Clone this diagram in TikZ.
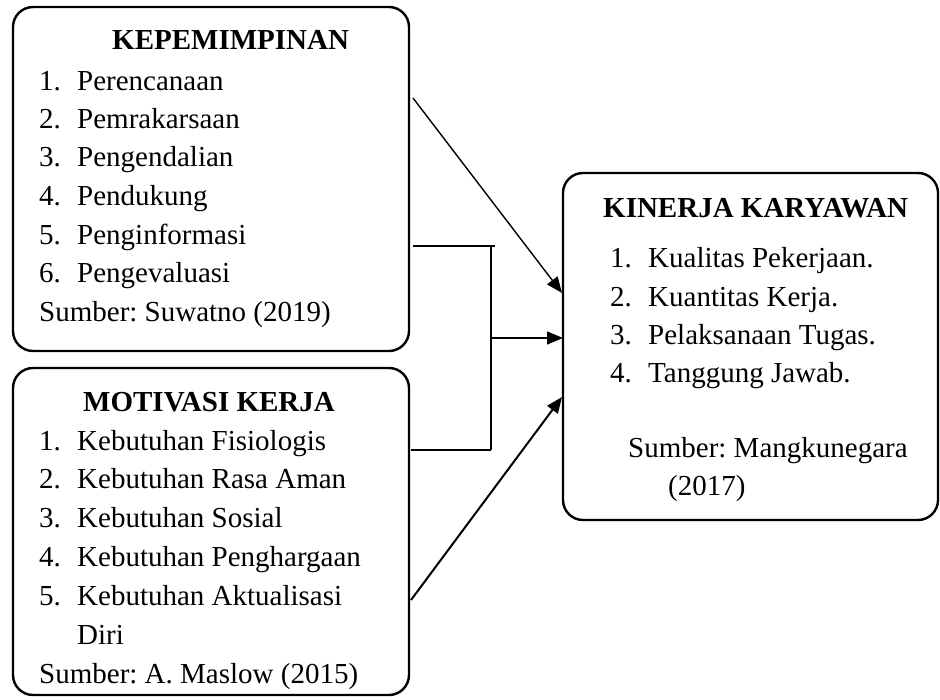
\documentclass[tikz,border=0pt]{standalone}
\usepackage{fontspec}
\setmainfont{Liberation Serif}
\usetikzlibrary{arrows.meta}
\frenchspacing
\begin{document}
\begin{tikzpicture}[x=1pt,y=-1pt,
  box/.style={draw,line width=2.4pt,rounded corners=20pt,inner sep=0pt},
  txt/.style={anchor=base west,inner sep=0pt,font=\fontsize{29}{39}\selectfont},
  ttl/.style={anchor=base west,inner sep=0pt,font=\fontsize{29}{39}\selectfont\bfseries},
  conn/.style={line width=1.4pt},
  arr/.style={line width=1.4pt,-{Triangle[length=16pt,width=13pt]}},
  arrb/.style={line width=2pt,-{Triangle[length=16pt,width=13pt]}}]
\useasboundingbox (0,0) rectangle (940,700);
% boxes
\node[box,minimum width=396pt,minimum height=344pt] (kep) at (211,179) {};
\node[box,minimum width=396pt,minimum height=327pt] (mot) at (211,531.5) {};
\node[box,minimum width=375pt,minimum height=347pt] (kin) at (750.5,346.5) {};
% box 1 text
\node[ttl] (t1) at (112,50) {KEPEMIMPINAN};
\node[txt] (n11) at (39,91) {1.}; \node[txt] (i11) at (77,91) {Perencanaan};
\node[txt] (n12) at (39,129) {2.}; \node[txt] (i12) at (77,129) {Pemrakarsaan};
\node[txt] (n13) at (39,167) {3.}; \node[txt] (i13) at (77,167) {Pengendalian};
\node[txt] (n14) at (39,206) {4.}; \node[txt] (i14) at (77,206) {Pendukung};
\node[txt] (n15) at (39,245) {5.}; \node[txt] (i15) at (77,245) {Penginformasi};
\node[txt] (n16) at (39,283) {6.}; \node[txt] (i16) at (77,283) {Pengevaluasi};
\node[txt] (s1) at (39,322) {Sumber: Suwatno (2019)};
% box 2 text
\node[ttl] (t2) at (83,412) {MOTIVASI KERJA};
\node[txt] (n21) at (39,450) {1.}; \node[txt] (i21) at (77,450) {Kebutuhan Fisiologis};
\node[txt] (n22) at (39,488) {2.}; \node[txt] (i22) at (77,488) {Kebutuhan Rasa Aman};
\node[txt] (n23) at (39,527) {3.}; \node[txt] (i23) at (77,527) {Kebutuhan Sosial};
\node[txt] (n24) at (39,566) {4.}; \node[txt] (i24) at (77,566) {Kebutuhan Penghargaan};
\node[txt] (n25) at (39,605) {5.}; \node[txt] (i25) at (77,605) {Kebutuhan Aktualisasi};
\node[txt] (i26) at (77,644) {Diri};
\node[txt] (s2) at (39,683) {Sumber: A. Maslow (2015)};
% box 3 text
\node[ttl] (t3) at (603,218) {KINERJA KARYAWAN};
\node[txt] (n31) at (610,268) {1.}; \node[txt] (i31) at (648,268) {Kualitas Pekerjaan.};
\node[txt] (n32) at (610,307) {2.}; \node[txt] (i32) at (648,307) {Kuantitas Kerja.};
\node[txt] (n33) at (610,345) {3.}; \node[txt] (i33) at (648,345) {Pelaksanaan Tugas.};
\node[txt] (n34) at (610,383) {4.}; \node[txt] (i34) at (648,383) {Tanggung Jawab.};
\node[txt] (s3a) at (628,457) {Sumber: Mangkunegara};
\node[txt] (s3b) at (668,495) {(2017)};
% connector points
\coordinate (a1s) at (413,98);
\coordinate (a1e) at (562,293);
\coordinate (e1) at (413,246);
\coordinate (e2) at (495,246);
\coordinate (v1) at (491,246);
\coordinate (v2) at (491,450);
\coordinate (b1) at (411,450);
\coordinate (m1) at (491,338);
\coordinate (m2) at (563,338);
\coordinate (a3s) at (411,600);
\coordinate (a3e) at (562,397);
% connectors
\draw[arr] (a1s) -- (a1e);
\draw[conn] (e1) -- (e2);
\draw[conn] (v1) -- (v2);
\draw[conn] (b1) -- (v2);
\draw[arr] (m1) -- (m2);
\draw[arrb] (a3s) -- (a3e);
\end{tikzpicture}
\end{document}
